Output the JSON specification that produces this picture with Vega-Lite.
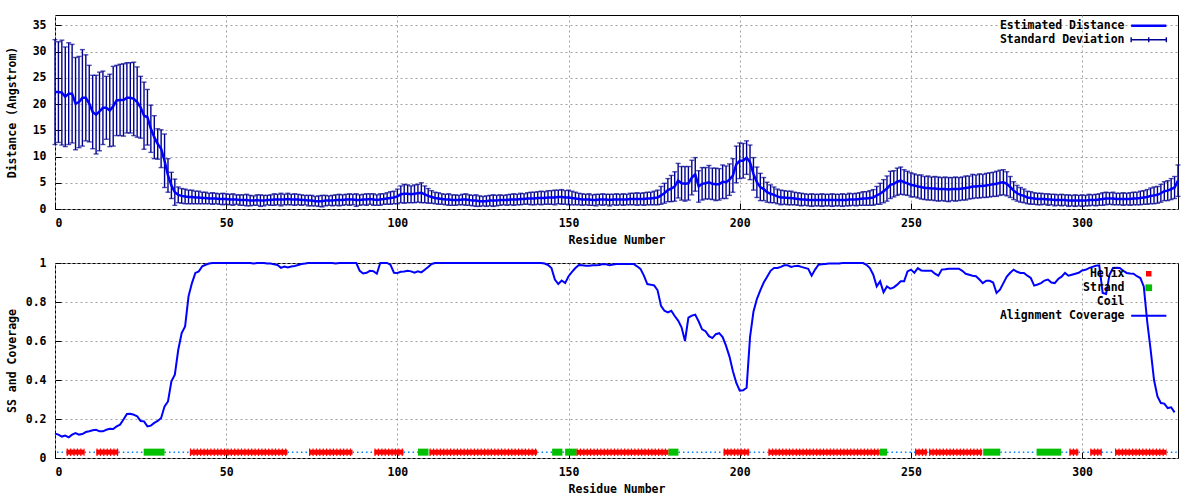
{
"$schema": "https://vega.github.io/schema/vega-lite/v6.json",
"background": "white",
"padding": {"left": 5, "top": 14, "right": 5, "bottom": 4},
"config": {
 "font": "DejaVu Sans Mono",
 "view": {"stroke": "#000000", "strokeWidth": 1},
 "axis": {"labelFont": "DejaVu Sans Mono", "labelFontWeight": "bold", "labelFontSize": 11.5, "labelColor": "#000000", "titleFont": "DejaVu Sans Mono", "titleFontWeight": "bold", "titleFontSize": 11.5, "titleColor": "#000000", "domain": false, "grid": true, "gridColor": "#a0a0a0", "gridDash": [2, 3], "gridWidth": 1, "tickColor": "#000000", "tickSize": -6, "labelPadding": 14, "labelOverlap": false},
 "axisX": {"titlePadding": 6},
 "axisY": {"labelPadding": 15, "labelOverlap": false},
 "legend": {"orient": "none", "labelFont": "DejaVu Sans Mono", "labelFontWeight": "bold", "labelFontSize": 11.5, "labelColor": "#000000", "symbolType": "M-3.2,0H3.2", "symbolSize": 121, "symbolStrokeWidth": 2.5, "rowPadding": 1, "padding": 0, "labelAlign": "right", "labelOffset": -30}
},
"datasets": {
"res": [
{"r":0,"d":22.3,"s":10.0,"c":0.125},{"r":1,"d":22.3,"s":9.6,"c":0.12},{"r":2,"d":22.2,"s":10.0,"c":0.11},{"r":3,"d":21.4,"s":9.5,"c":0.115},{"r":4,"d":22.0,"s":9.7,"c":0.106},{"r":5,"d":22.0,"s":9.4,"c":0.12},{"r":6,"d":20.1,"s":8.8,"c":0.128},{"r":7,"d":20.4,"s":8.7,"c":0.12},{"r":8,"d":21.2,"s":9.2,"c":0.123},{"r":9,"d":21.2,"s":8.2,"c":0.133},
{"r":10,"d":20.1,"s":7.3,"c":0.137},{"r":11,"d":18.5,"s":7.0,"c":0.142},{"r":12,"d":18.0,"s":7.5,"c":0.145},{"r":13,"d":18.6,"s":7.5,"c":0.137},{"r":14,"d":19.3,"s":7.0,"c":0.137},{"r":15,"d":19.3,"s":6.0,"c":0.145},{"r":16,"d":18.8,"s":6.9,"c":0.15},{"r":17,"d":19.6,"s":7.6,"c":0.149},{"r":18,"d":20.7,"s":6.7,"c":0.162},{"r":19,"d":20.8,"s":6.8,"c":0.171},
{"r":20,"d":20.8,"s":6.9,"c":0.197},{"r":21,"d":21.2,"s":6.7,"c":0.226},{"r":22,"d":21.2,"s":6.7,"c":0.227},{"r":23,"d":21.0,"s":7.0,"c":0.222},{"r":24,"d":20.4,"s":6.7,"c":0.214},{"r":25,"d":19.4,"s":5.9,"c":0.19},{"r":26,"d":17.8,"s":6.4,"c":0.188},{"r":27,"d":17.5,"s":5.3,"c":0.162},{"r":28,"d":15.3,"s":4.5,"c":0.166},{"r":29,"d":13.7,"s":4.1,"c":0.18},
{"r":30,"d":12.4,"s":2.9,"c":0.19},{"r":31,"d":11.5,"s":3.6,"c":0.205},{"r":32,"d":9.2,"s":5.1,"c":0.265},{"r":33,"d":6.4,"s":3.2,"c":0.29},{"r":34,"d":4.5,"s":2.5,"c":0.393},{"r":35,"d":3.2,"s":2.5,"c":0.427},{"r":36,"d":2.7,"s":1.5,"c":0.555},{"r":37,"d":2.5,"s":1.4,"c":0.641},{"r":38,"d":2.4,"s":1.4,"c":0.675},{"r":39,"d":2.3,"s":1.3,"c":0.829},
{"r":40,"d":2.3,"s":1.3,"c":0.897},{"r":41,"d":2.2,"s":1.2,"c":0.949},{"r":42,"d":2.2,"s":1.2,"c":0.957},{"r":43,"d":2.1,"s":1.1,"c":0.983},{"r":44,"d":2.1,"s":1.1,"c":0.991},{"r":45,"d":2.0,"s":1.0,"c":0.997},{"r":46,"d":2.0,"s":1.1,"c":1},{"r":47,"d":2.0,"s":1.0,"c":1},{"r":48,"d":1.9,"s":1.0,"c":1},{"r":49,"d":1.9,"s":1.1,"c":1},
{"r":50,"d":1.9,"s":1.0,"c":1},{"r":51,"d":1.8,"s":1.0,"c":1},{"r":52,"d":1.8,"s":1.1,"c":1},{"r":53,"d":1.8,"s":0.9,"c":1},{"r":54,"d":1.7,"s":1.0,"c":1},{"r":55,"d":1.7,"s":1.0,"c":1},{"r":56,"d":1.7,"s":1.1,"c":1},{"r":57,"d":1.6,"s":1.0,"c":1},{"r":58,"d":1.6,"s":0.9,"c":0.997},{"r":59,"d":1.7,"s":1.0,"c":1},
{"r":60,"d":1.6,"s":1.1,"c":1},{"r":61,"d":1.6,"s":1.0,"c":1},{"r":62,"d":1.7,"s":0.9,"c":0.997},{"r":63,"d":1.7,"s":1.0,"c":0.997},{"r":64,"d":1.8,"s":1.1,"c":0.993},{"r":65,"d":1.8,"s":1.0,"c":0.99},{"r":66,"d":1.8,"s":1.2,"c":0.975},{"r":67,"d":1.8,"s":1.0,"c":0.982},{"r":68,"d":1.9,"s":1.1,"c":0.977},{"r":69,"d":1.8,"s":1.0,"c":0.982},
{"r":70,"d":1.8,"s":1.1,"c":0.985},{"r":71,"d":1.8,"s":1.0,"c":0.99},{"r":72,"d":1.7,"s":1.0,"c":0.995},{"r":73,"d":1.7,"s":0.9,"c":0.997},{"r":74,"d":1.6,"s":1.0,"c":1},{"r":75,"d":1.6,"s":1.0,"c":1},{"r":76,"d":1.5,"s":0.9,"c":1},{"r":77,"d":1.5,"s":1.0,"c":1},{"r":78,"d":1.5,"s":1.1,"c":1},{"r":79,"d":1.6,"s":1.0,"c":1},
{"r":80,"d":1.6,"s":0.9,"c":1},{"r":81,"d":1.6,"s":1.0,"c":1},{"r":82,"d":1.7,"s":1.0,"c":0.997},{"r":83,"d":1.7,"s":1.1,"c":1},{"r":84,"d":1.7,"s":1.0,"c":1},{"r":85,"d":1.8,"s":1.0,"c":1},{"r":86,"d":1.8,"s":1.1,"c":1},{"r":87,"d":1.8,"s":1.0,"c":1},{"r":88,"d":1.7,"s":1.2,"c":1},{"r":89,"d":1.7,"s":1.0,"c":0.96},
{"r":90,"d":1.8,"s":1.0,"c":0.946},{"r":91,"d":1.8,"s":1.1,"c":0.95},{"r":92,"d":1.9,"s":1.0,"c":0.96},{"r":93,"d":1.8,"s":1.1,"c":0.958},{"r":94,"d":1.7,"s":1.0,"c":0.945},{"r":95,"d":1.8,"s":1.1,"c":1},{"r":96,"d":1.9,"s":1.0,"c":1},{"r":97,"d":2.0,"s":1.1,"c":1},{"r":98,"d":2.1,"s":1.2,"c":0.99},{"r":99,"d":2.2,"s":1.2,"c":0.95},
{"r":100,"d":2.4,"s":1.4,"c":0.949},{"r":101,"d":2.8,"s":1.6,"c":0.955},{"r":102,"d":2.9,"s":1.8,"c":0.957},{"r":103,"d":2.9,"s":1.7,"c":0.96},{"r":104,"d":2.8,"s":1.6,"c":0.957},{"r":105,"d":2.9,"s":1.7,"c":0.95},{"r":106,"d":3.0,"s":1.7,"c":0.957},{"r":107,"d":3.1,"s":1.9,"c":0.952},{"r":108,"d":2.8,"s":1.6,"c":0.965},{"r":109,"d":2.5,"s":1.4,"c":0.98},
{"r":110,"d":2.3,"s":1.2,"c":0.995},{"r":111,"d":2.1,"s":1.1,"c":1},{"r":112,"d":2.0,"s":1.1,"c":1},{"r":113,"d":1.9,"s":1.0,"c":1},{"r":114,"d":1.8,"s":1.0,"c":1},{"r":115,"d":1.8,"s":1.1,"c":1},{"r":116,"d":1.7,"s":1.0,"c":1},{"r":117,"d":1.7,"s":1.0,"c":1},{"r":118,"d":1.7,"s":0.9,"c":1},{"r":119,"d":1.8,"s":1.0,"c":1},
{"r":120,"d":1.8,"s":1.1,"c":1},{"r":121,"d":1.7,"s":1.0,"c":1},{"r":122,"d":1.6,"s":1.0,"c":1},{"r":123,"d":1.6,"s":1.1,"c":1},{"r":124,"d":1.5,"s":1.0,"c":1},{"r":125,"d":1.5,"s":0.9,"c":1},{"r":126,"d":1.5,"s":1.0,"c":1},{"r":127,"d":1.6,"s":1.0,"c":1},{"r":128,"d":1.6,"s":1.1,"c":1},{"r":129,"d":1.6,"s":1.0,"c":1},
{"r":130,"d":1.7,"s":1.0,"c":1},{"r":131,"d":1.7,"s":0.9,"c":1},{"r":132,"d":1.7,"s":1.0,"c":1},{"r":133,"d":1.8,"s":1.0,"c":1},{"r":134,"d":1.8,"s":1.1,"c":1},{"r":135,"d":1.8,"s":1.0,"c":1},{"r":136,"d":1.9,"s":1.1,"c":1},{"r":137,"d":1.9,"s":1.0,"c":1},{"r":138,"d":2.0,"s":1.1,"c":1},{"r":139,"d":2.0,"s":1.2,"c":1},
{"r":140,"d":2.0,"s":1.2,"c":1},{"r":141,"d":2.1,"s":1.2,"c":1},{"r":142,"d":2.1,"s":1.3,"c":1},{"r":143,"d":2.1,"s":1.2,"c":0.997},{"r":144,"d":2.2,"s":1.3,"c":0.99},{"r":145,"d":2.2,"s":1.3,"c":0.974},{"r":146,"d":2.2,"s":1.4,"c":0.915},{"r":147,"d":2.3,"s":1.3,"c":0.892},{"r":148,"d":2.3,"s":1.4,"c":0.91},{"r":149,"d":2.2,"s":1.3,"c":0.897},
{"r":150,"d":2.2,"s":1.4,"c":0.932},{"r":151,"d":2.1,"s":1.3,"c":0.955},{"r":152,"d":2.0,"s":1.2,"c":0.974},{"r":153,"d":1.9,"s":1.1,"c":0.99},{"r":154,"d":1.8,"s":1.1,"c":0.988},{"r":155,"d":1.8,"s":1.0,"c":0.986},{"r":156,"d":1.8,"s":1.1,"c":0.986},{"r":157,"d":1.7,"s":1.0,"c":0.988},{"r":158,"d":1.7,"s":1.1,"c":0.988},{"r":159,"d":1.8,"s":1.0,"c":0.99},
{"r":160,"d":1.8,"s":1.1,"c":0.995},{"r":161,"d":1.8,"s":1.0,"c":0.993},{"r":162,"d":1.7,"s":1.1,"c":0.988},{"r":163,"d":1.8,"s":1.0,"c":0.992},{"r":164,"d":1.8,"s":1.1,"c":0.995},{"r":165,"d":1.8,"s":1.0,"c":0.995},{"r":166,"d":1.8,"s":1.1,"c":0.995},{"r":167,"d":1.8,"s":1.0,"c":0.995},{"r":168,"d":1.9,"s":1.1,"c":0.995},{"r":169,"d":1.9,"s":1.1,"c":0.995},
{"r":170,"d":1.9,"s":1.2,"c":0.983},{"r":171,"d":1.9,"s":1.1,"c":0.97},{"r":172,"d":1.9,"s":1.2,"c":0.935},{"r":173,"d":2.0,"s":1.2,"c":0.892},{"r":174,"d":2.0,"s":1.2,"c":0.889},{"r":175,"d":2.1,"s":1.3,"c":0.885},{"r":176,"d":2.2,"s":1.4,"c":0.86},{"r":177,"d":2.6,"s":1.7,"c":0.78},{"r":178,"d":3.0,"s":1.9,"c":0.755},{"r":179,"d":3.6,"s":2.2,"c":0.747},
{"r":180,"d":3.9,"s":2.5,"c":0.755},{"r":181,"d":4.3,"s":2.8,"c":0.728},{"r":182,"d":5.4,"s":3.3,"c":0.705},{"r":183,"d":4.9,"s":3.2,"c":0.67},{"r":184,"d":4.8,"s":3.3,"c":0.6},{"r":185,"d":4.9,"s":3.2,"c":0.72},{"r":186,"d":6.0,"s":3.3,"c":0.73},{"r":187,"d":6.6,"s":3.2,"c":0.735},{"r":188,"d":4.3,"s":3.0,"c":0.7},{"r":189,"d":4.8,"s":3.1,"c":0.66},
{"r":190,"d":4.9,"s":3.0,"c":0.65},{"r":191,"d":5.1,"s":3.2,"c":0.625},{"r":192,"d":4.8,"s":3.0,"c":0.615},{"r":193,"d":4.7,"s":3.1,"c":0.635},{"r":194,"d":4.7,"s":3.0,"c":0.64},{"r":195,"d":5.2,"s":3.2,"c":0.62},{"r":196,"d":5.1,"s":3.1,"c":0.575},{"r":197,"d":5.6,"s":3.0,"c":0.52},{"r":198,"d":6.4,"s":3.2,"c":0.445},{"r":199,"d":8.5,"s":3.5,"c":0.385},
{"r":200,"d":9.2,"s":3.4,"c":0.345},{"r":201,"d":9.2,"s":3.3,"c":0.347},{"r":202,"d":9.8,"s":3.2,"c":0.36},{"r":203,"d":8.9,"s":3.3,"c":0.62},{"r":204,"d":6.7,"s":3.1,"c":0.75},{"r":205,"d":5.1,"s":2.9,"c":0.815},{"r":206,"d":4.2,"s":2.6,"c":0.86},{"r":207,"d":3.8,"s":2.2,"c":0.9},{"r":208,"d":3.2,"s":1.9,"c":0.93},{"r":209,"d":2.9,"s":1.7,"c":0.96},
{"r":210,"d":2.7,"s":1.5,"c":0.974},{"r":211,"d":2.4,"s":1.4,"c":0.974},{"r":212,"d":2.2,"s":1.4,"c":0.98},{"r":213,"d":2.2,"s":1.3,"c":0.988},{"r":214,"d":2.1,"s":1.3,"c":0.988},{"r":215,"d":2.1,"s":1.3,"c":0.98},{"r":216,"d":2.0,"s":1.2,"c":0.984},{"r":217,"d":1.9,"s":1.2,"c":0.986},{"r":218,"d":1.8,"s":1.2,"c":0.98},{"r":219,"d":1.8,"s":1.1,"c":0.975},
{"r":220,"d":1.7,"s":1.1,"c":0.97},{"r":221,"d":1.7,"s":1.2,"c":0.935},{"r":222,"d":1.7,"s":1.1,"c":0.966},{"r":223,"d":1.7,"s":1.1,"c":0.991},{"r":224,"d":1.7,"s":1.2,"c":0.993},{"r":225,"d":1.7,"s":1.1,"c":0.995},{"r":226,"d":1.7,"s":1.1,"c":0.997},{"r":227,"d":1.7,"s":1.2,"c":0.997},{"r":228,"d":1.7,"s":1.1,"c":0.997},{"r":229,"d":1.7,"s":1.1,"c":0.997},
{"r":230,"d":1.7,"s":1.2,"c":1},{"r":231,"d":1.7,"s":1.1,"c":1},{"r":232,"d":1.8,"s":1.2,"c":1},{"r":233,"d":1.8,"s":1.1,"c":1},{"r":234,"d":1.8,"s":1.2,"c":1},{"r":235,"d":1.9,"s":1.2,"c":1},{"r":236,"d":2.0,"s":1.3,"c":1},{"r":237,"d":2.0,"s":1.3,"c":0.991},{"r":238,"d":2.1,"s":1.4,"c":0.974},{"r":239,"d":2.2,"s":1.5,"c":0.94},
{"r":240,"d":2.6,"s":1.7,"c":0.88},{"r":241,"d":2.9,"s":2.0,"c":0.906},{"r":242,"d":3.4,"s":2.2,"c":0.85},{"r":243,"d":3.9,"s":2.4,"c":0.88},{"r":244,"d":4.6,"s":2.6,"c":0.868},{"r":245,"d":4.8,"s":2.5,"c":0.875},{"r":246,"d":5.2,"s":2.6,"c":0.889},{"r":247,"d":5.4,"s":2.6,"c":0.906},{"r":248,"d":5.1,"s":2.4,"c":0.906},{"r":249,"d":4.9,"s":2.3,"c":0.957},
{"r":250,"d":4.6,"s":2.3,"c":0.966},{"r":251,"d":4.5,"s":2.2,"c":0.95},{"r":252,"d":4.3,"s":2.2,"c":0.974},{"r":253,"d":4.2,"s":2.3,"c":0.962},{"r":254,"d":4.0,"s":2.2,"c":0.96},{"r":255,"d":4.0,"s":2.3,"c":0.96},{"r":256,"d":3.9,"s":2.2,"c":0.96},{"r":257,"d":3.9,"s":2.3,"c":0.945},{"r":258,"d":3.8,"s":2.3,"c":0.935},{"r":259,"d":3.8,"s":2.2,"c":0.966},
{"r":260,"d":3.8,"s":2.3,"c":0.968},{"r":261,"d":3.7,"s":2.3,"c":0.971},{"r":262,"d":3.8,"s":2.2,"c":0.971},{"r":263,"d":3.8,"s":2.3,"c":0.971},{"r":264,"d":3.8,"s":2.2,"c":0.971},{"r":265,"d":3.9,"s":2.2,"c":0.96},{"r":266,"d":4.0,"s":2.3,"c":0.945},{"r":267,"d":4.1,"s":2.2,"c":0.94},{"r":268,"d":4.3,"s":2.3,"c":0.935},{"r":269,"d":4.3,"s":2.2,"c":0.932},
{"r":270,"d":4.4,"s":2.3,"c":0.915},{"r":271,"d":4.4,"s":2.2,"c":0.897},{"r":272,"d":4.5,"s":2.3,"c":0.909},{"r":273,"d":4.6,"s":2.3,"c":0.909},{"r":274,"d":4.7,"s":2.3,"c":0.9},{"r":275,"d":4.8,"s":2.4,"c":0.846},{"r":276,"d":5.0,"s":2.4,"c":0.863},{"r":277,"d":5.1,"s":2.4,"c":0.897},{"r":278,"d":4.8,"s":2.3,"c":0.93},{"r":279,"d":4.2,"s":2.0,"c":0.95},
{"r":280,"d":3.5,"s":1.7,"c":0.966},{"r":281,"d":3.0,"s":1.5,"c":0.955},{"r":282,"d":2.7,"s":1.4,"c":0.949},{"r":283,"d":2.5,"s":1.3,"c":0.949},{"r":284,"d":2.2,"s":1.2,"c":0.935},{"r":285,"d":2.1,"s":1.2,"c":0.923},{"r":286,"d":2.0,"s":1.1,"c":0.884},{"r":287,"d":1.9,"s":1.1,"c":0.89},{"r":288,"d":1.9,"s":1.1,"c":0.897},{"r":289,"d":1.9,"s":1.0,"c":0.91},
{"r":290,"d":1.8,"s":1.1,"c":0.915},{"r":291,"d":1.8,"s":1.0,"c":0.9},{"r":292,"d":1.7,"s":1.1,"c":0.897},{"r":293,"d":1.7,"s":1.0,"c":0.918},{"r":294,"d":1.7,"s":1.1,"c":0.93},{"r":295,"d":1.7,"s":1.0,"c":0.949},{"r":296,"d":1.6,"s":1.1,"c":0.935},{"r":297,"d":1.6,"s":1.0,"c":0.94},{"r":298,"d":1.6,"s":1.1,"c":0.945},{"r":299,"d":1.6,"s":1.0,"c":0.95},
{"r":300,"d":1.6,"s":1.1,"c":0.962},{"r":301,"d":1.6,"s":1.0,"c":0.965},{"r":302,"d":1.7,"s":1.1,"c":0.974},{"r":303,"d":1.7,"s":1.0,"c":0.98},{"r":304,"d":1.7,"s":1.1,"c":0.986},{"r":305,"d":1.8,"s":1.1,"c":0.988},{"r":306,"d":1.9,"s":1.2,"c":0.846},{"r":307,"d":2.0,"s":1.2,"c":0.841},{"r":308,"d":2.0,"s":1.1,"c":0.94},{"r":309,"d":2.0,"s":1.2,"c":0.974},
{"r":310,"d":1.9,"s":1.1,"c":0.975},{"r":311,"d":1.9,"s":1.1,"c":0.974},{"r":312,"d":1.9,"s":1.2,"c":0.96},{"r":313,"d":1.9,"s":1.1,"c":0.949},{"r":314,"d":1.9,"s":1.2,"c":0.946},{"r":315,"d":2.0,"s":1.2,"c":0.945},{"r":316,"d":2.0,"s":1.2,"c":0.932},{"r":317,"d":2.1,"s":1.3,"c":0.923},{"r":318,"d":2.2,"s":1.3,"c":0.88},{"r":319,"d":2.3,"s":1.4,"c":0.7},
{"r":320,"d":2.5,"s":1.5,"c":0.556},{"r":321,"d":2.6,"s":1.6,"c":0.4},{"r":322,"d":2.7,"s":1.6,"c":0.316},{"r":323,"d":3.0,"s":1.7,"c":0.282},{"r":324,"d":3.4,"s":1.8,"c":0.279},{"r":325,"d":3.5,"s":1.9,"c":0.256},{"r":326,"d":3.8,"s":2.0,"c":0.26},{"r":327,"d":4.1,"s":2.1,"c":0.234},{"r":328,"d":5.4,"s":3.0}
],
"ss": [
{"t":"Coil","a":0.6,"b":3.4},{"t":"Coil","a":8.6,"b":12.1},{"t":"Coil","a":18.5,"b":25.9},{"t":"Coil","a":32.0,"b":39.4},{"t":"Coil","a":67.9,"b":74.2},{"t":"Coil","a":86.9,"b":93.3},{"t":"Coil","a":101.8,"b":106.0},{"t":"Coil","a":140.8,"b":145.2},{"t":"Coil","a":148.2,"b":149.0},{"t":"Coil","a":182.1,"b":195.3},{"t":"Coil","a":202.8,"b":208.4},{"t":"Coil","a":243.0,"b":251.2},{"t":"Coil","a":254.7,"b":255.3},{"t":"Coil","a":276.1,"b":286.7},{"t":"Coil","a":293.9,"b":296.3},{"t":"Coil","a":298.9,"b":302.4},{"t":"Coil","a":305.7,"b":309.6},{"t":"Coil","a":324.6,"b":327.6},
{"t":"Helix","a":3.4,"b":8.6},{"t":"Helix","a":12.1,"b":18.5},{"t":"Helix","a":39.4,"b":67.9},{"t":"Helix","a":74.2,"b":86.9},{"t":"Helix","a":93.3,"b":101.8},{"t":"Helix","a":109.4,"b":140.8},{"t":"Helix","a":152.3,"b":179.2},{"t":"Helix","a":195.3,"b":202.8},{"t":"Helix","a":208.4,"b":240.9},{"t":"Helix","a":251.2,"b":254.7},{"t":"Helix","a":255.3,"b":270.8},{"t":"Helix","a":296.3,"b":298.9},{"t":"Helix","a":302.4,"b":305.7},{"t":"Helix","a":309.6,"b":324.6},
{"t":"Strand","a":25.9,"b":32.0},{"t":"Strand","a":106.0,"b":109.1},{"t":"Strand","a":145.2,"b":148.2},{"t":"Strand","a":149.0,"b":152.3},{"t":"Strand","a":179.2,"b":182.1},{"t":"Strand","a":240.9,"b":243.0},{"t":"Strand","a":271.1,"b":276.1},{"t":"Strand","a":286.7,"b":293.9}
]
},
"resolve": {"scale": {"color": "independent", "x": "independent", "y": "independent"}, "legend": {"color": "independent"}},
"spacing": 9,
"vconcat": [
{
 "width": 1123, "height": 194,
 "data": {"name": "res"},
 "layer": [
  {
   "mark": {"type": "errorbar", "ticks": true, "thickness": 1.4},
   "encoding": {
    "x": {"field": "r", "type": "quantitative", "scale": {"domain": [0, 328], "nice": false, "zero": false}, "axis": {"title": "Residue Number", "values": [0, 50, 100, 150, 200, 250, 300]}},
    "y": {"field": "d", "type": "quantitative", "scale": {"domain": [0, 37], "nice": false}, "axis": {"title": "Distance (Angstrom)", "values": [0, 5, 10, 15, 20, 25, 30, 35], "tickCount": 20, "titlePadding": 15, "labelOverlap": false}},
    "yError": {"field": "s"},
    "color": {"datum": "Standard Deviation", "scale": {"domain": ["Estimated Distance", "Standard Deviation"], "range": ["#0000ff", "#000090"]}, "legend": {"title": null, "legendX": 1088, "legendY": 5, "encode": {"symbols": {"update": {"shape": {"signal": "datum.value === 'Standard Deviation' ? 'M-3.2,0H3.2M-3.2,-0.45V0.45M3.2,-0.45V0.45M0,-0.45V0.45' : 'M-3.2,0H3.2'"}, "strokeWidth": {"signal": "datum.value === 'Standard Deviation' ? 1.4 : 2.5"}}}}}}
   }
  },
  {
   "mark": {"type": "line", "strokeWidth": 2.5},
   "encoding": {
    "x": {"field": "r", "type": "quantitative"},
    "y": {"field": "d", "type": "quantitative"},
    "color": {"datum": "Estimated Distance"}
   }
  }
 ]
},
{
 "width": 1123, "height": 195,
 "layer": [
  {
   "data": {"name": "ss"},
   "transform": [{"filter": "datum.t === 'Coil'"}],
   "mark": {"type": "rule", "strokeWidth": 1.5, "strokeDash": [1.5, 3]},
   "encoding": {
    "x": {"field": "a", "type": "quantitative", "scale": {"domain": [0, 328], "nice": false, "zero": false}, "axis": {"title": "Residue Number", "values": [0, 50, 100, 150, 200, 250, 300]}},
    "x2": {"field": "b"},
    "y": {"datum": 0.03, "type": "quantitative", "scale": {"domain": [0, 1], "nice": false}, "axis": {"title": "SS and Coverage", "values": [0, 0.2, 0.4, 0.6, 0.8, 1], "tickCount": 20, "format": "~g", "titlePadding": 8, "labelOverlap": false}},
    "color": {"field": "t", "type": "nominal", "scale": {"domain": ["Helix", "Strand", "Coil", "Alignment Coverage"], "range": ["#ff0000", "#00c000", "#0080ff", "#0000ff"]}, "legend": {"title": null, "legendX": 1088, "legendY": 5, "symbolStrokeWidth": 2, "encode": {"symbols": {"update": {"shape": {"signal": "(datum.value === 'Helix' || datum.value === 'Strand') ? 'square' : (datum.value === 'Coil' ? 'M0,0' : 'M-3.2,0H3.2')"}, "size": {"signal": "datum.value === 'Helix' ? 30 : (datum.value === 'Strand' ? 45 : 121)"}, "fill": {"signal": "datum.value === 'Helix' ? '#ff0000' : (datum.value === 'Strand' ? '#00c000' : 'transparent')"}, "strokeWidth": {"signal": "(datum.value === 'Helix' || datum.value === 'Strand') ? 0 : 2"}}}}}}
   }
  },
  {
   "data": {"name": "ss"},
   "transform": [{"filter": "datum.t === 'Helix'"}],
   "mark": {"type": "rule", "strokeWidth": 5},
   "encoding": {
    "x": {"field": "a", "type": "quantitative"},
    "x2": {"field": "b"},
    "y": {"datum": 0.03, "type": "quantitative"},
    "color": {"field": "t", "type": "nominal"}
   }
  },
  {
   "data": {"name": "ss"},
   "transform": [{"filter": "datum.t === 'Helix'"}],
   "mark": {"type": "rule", "strokeWidth": 7.5, "strokeDash": [1.2, 2.2]},
   "encoding": {
    "x": {"field": "a", "type": "quantitative"},
    "x2": {"field": "b"},
    "y": {"datum": 0.03, "type": "quantitative"},
    "color": {"field": "t", "type": "nominal"}
   }
  },
  {
   "data": {"name": "ss"},
   "transform": [{"filter": "datum.t === 'Strand'"}],
   "mark": {"type": "rule", "strokeWidth": 7},
   "encoding": {
    "x": {"field": "a", "type": "quantitative"},
    "x2": {"field": "b"},
    "y": {"datum": 0.03, "type": "quantitative"},
    "color": {"field": "t", "type": "nominal"}
   }
  },
  {
   "data": {"name": "res"},
   "mark": {"type": "line", "strokeWidth": 2},
   "encoding": {
    "x": {"field": "r", "type": "quantitative"},
    "y": {"field": "c", "type": "quantitative"},
    "color": {"datum": "Alignment Coverage"}
   }
  }
 ]
}
]
}
